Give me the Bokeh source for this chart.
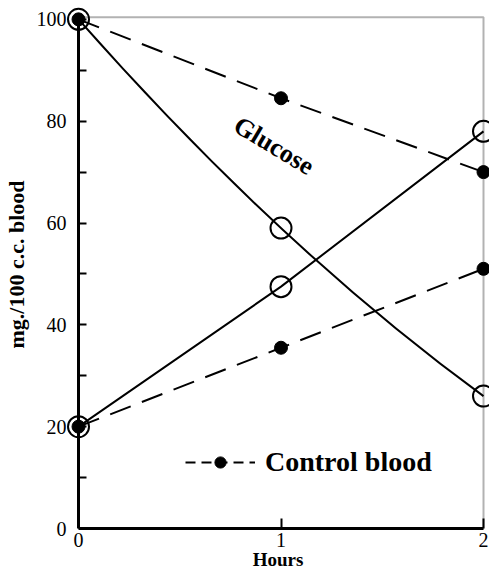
from bokeh.plotting import figure
from bokeh.models import (Range1d, FixedTicker, Label, Legend, LegendItem,
                          BoxAnnotation, LinearAxis)
from bokeh.embed import file_html
from bokeh.resources import INLINE

# ---- data ----
hours = [0, 1, 2]
glucose_exp = [100, 59, 26]        # solid curve, open circles
glucose_ctrl = [100, 84.5, 70]     # dashed, filled dots (control blood)
rise_exp = [20, 47.5, 78]          # solid line, open circles
rise_ctrl = [20, 35.5, 51]         # dashed, filled dots (control blood)

y_major = [0, 20, 40, 60, 80, 100]
y_minor = [10, 30, 50, 70, 90]
x_ticks = [0, 1, 2]

SERIF = "Liberation Serif"

p = figure(width=489, height=574, output_backend="svg", toolbar_location=None,
           x_range=Range1d(-0.0593, 2.0296), y_range=Range1d(0, 103.7),
           min_border_left=66, min_border_right=0, min_border_top=0,
           min_border_bottom=46, background_fill_color="white",
           border_fill_color="white")
p.grid.visible = False
p.outline_line_color = None

# frame box (top and right borders)
p.add_layout(BoxAnnotation(left=0, right=2, bottom=0, top=100.4, fill_alpha=0,
                           line_color="black", line_width=2))

# smooth glucose curve through its three points (quadratic)
cx = hours[1]
cy = 2 * glucose_exp[1] - (glucose_exp[0] + glucose_exp[2]) / 2
p.quadratic(x0=[hours[0]], y0=[glucose_exp[0]], x1=[hours[2]], y1=[glucose_exp[2]],
            cx=[cx], cy=[cy], line_color="black", line_width=2)
p.line(hours, rise_exp, line_color="black", line_width=2)

dash = "22 12"
p.line(hours, glucose_ctrl, line_color="black", line_width=2, line_dash=dash)
p.line(hours, rise_ctrl, line_color="black", line_width=2, line_dash=dash)

p.scatter(hours, glucose_exp, size=21, fill_color=None, line_color="black", line_width=2)
p.scatter(hours, rise_exp, size=21, fill_color=None, line_color="black", line_width=2)
ctrl_dots = p.scatter(hours, glucose_ctrl, size=13, color="black")
p.scatter(hours, rise_ctrl, size=13, color="black")

# legend sample line (short dashes); no visible data of its own
nan = float("nan")
legend_line = p.line(x=[nan], y=[nan], line_color="black", line_width=2, line_dash="10 6")
legend = Legend(items=[LegendItem(label="Control blood", renderers=[legend_line, ctrl_dots])],
                location=(119, 50), border_line_color=None, background_fill_alpha=0,
                padding=0, margin=0, glyph_width=70, glyph_height=28, label_height=28,
                label_standoff=10, label_text_font=SERIF, label_text_font_style="bold",
                label_text_font_size="28px", label_text_color="black")
p.add_layout(legend, "center")

p.add_layout(Label(x=0.965, y=75.2, text="Glucose", angle=-31, angle_units="deg",
                   text_align="center", text_baseline="middle", text_font=SERIF,
                   text_font_style="bold", text_font_size="26px", text_color="black"))

# x axis
xa = p.xaxis[0]
xa.bounds = (0, 2)
xa.ticker = FixedTicker(ticks=x_ticks)
xa.major_tick_in = 10
xa.major_tick_out = 0
xa.minor_tick_in = 0
xa.minor_tick_out = 0
xa.major_tick_line_width = 2
xa.axis_line_width = 3
xa.major_label_standoff = 4
xa.major_label_text_font = SERIF
xa.major_label_text_font_size = "20px"
xa.major_label_text_color = "black"
xa.axis_label = "Hours"
xa.axis_label_text_font = SERIF
xa.axis_label_text_font_style = "bold"
xa.axis_label_text_font_size = "19px"
xa.axis_label_text_color = "black"
xa.axis_label_standoff = -1

# y axis: labels in the left panel (no line / ticks) ...
ya = p.yaxis[0]
ya.bounds = (0, 100)
ya.ticker = FixedTicker(ticks=y_major)
ya.axis_line_color = None
ya.major_tick_line_color = None
ya.minor_tick_line_color = None
ya.major_tick_in = 0
ya.major_tick_out = 0
ya.minor_tick_in = 0
ya.minor_tick_out = 0
ya.major_label_standoff = 0
ya.major_label_text_font = SERIF
ya.major_label_text_font_size = "20px"
ya.major_label_text_color = "black"
ya.axis_label = "mg./100 c.c. blood"
ya.axis_label_text_font = SERIF
ya.axis_label_text_font_style = "bold"
ya.axis_label_text_font_size = "22px"
ya.axis_label_text_color = "black"
ya.axis_label_standoff = 5

# ... and the axis line with inward ticks drawn at x = 0
yl = LinearAxis(fixed_location=0, bounds=(0, 100),
                ticker=FixedTicker(ticks=y_major, minor_ticks=y_minor),
                major_label_overrides={t: "" for t in y_major},
                major_tick_in=8, major_tick_out=0, minor_tick_in=8, minor_tick_out=0,
                major_tick_line_width=2, minor_tick_line_width=2, axis_line_width=3)
p.add_layout(yl, "left")

open("out.html", "w").write(file_html(p, INLINE))
